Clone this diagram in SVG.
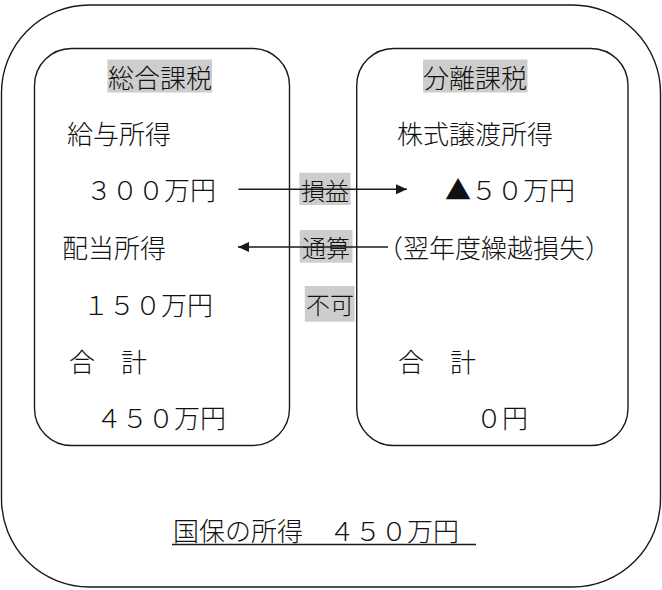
<svg xmlns="http://www.w3.org/2000/svg" width="662" height="590" viewBox="0 0 662 590">
<style>
.box{fill:none;stroke:#1a1a1a;stroke-width:1.4}
.t{font-family:"Noto Sans CJK JP","Noto Sans",sans-serif;font-size:26px;font-weight:300;fill:#111}
.m{text-anchor:middle}
.tag{fill:#cdcdcd}
.lb{font-family:"Noto Sans CJK JP","Noto Sans",sans-serif;font-size:24px;font-weight:300;fill:#111;text-anchor:middle}
.conn{stroke:#1a1a1a;stroke-width:1.4;fill:none}
</style>
<defs>
<marker id="ah" markerWidth="12" markerHeight="10" refX="11" refY="5" orient="auto" markerUnits="userSpaceOnUse">
<path d="M0,0 L11,5 L0,10 Z" fill="#1a1a1a"/>
</marker>
</defs>
<rect width="662" height="590" fill="#fff"/>
<g id="kokuho">
<rect class="box" x="1.5" y="5" width="659" height="582" rx="88" ry="88"/>
<text class="t" x="173" y="541">国保の所得　４５０万円</text>
<line x1="172" y1="544.5" x2="476" y2="544.5" stroke="#1a1a1a" stroke-width="1.6"/>
</g>
<g id="sogo">
<rect class="box" x="34.5" y="48.5" width="255" height="397" rx="37" ry="37"/>
<rect class="tag" x="107.5" y="59.5" width="104.5" height="33"/>
<text class="t m" x="160" y="88">総合課税</text>
<text class="t" x="67" y="144">給与所得</text>
<text class="t m" x="151" y="200">３００万円</text>
<text class="t" x="62" y="258">配当所得</text>
<text class="t m" x="148" y="315">１５０万円</text>
<text class="t" x="69" y="372">合　計</text>
<text class="t m" x="161" y="428">４５０万円</text>
</g>
<g id="bunri">
<rect class="box" x="356.7" y="48.5" width="271.3" height="397" rx="37" ry="37"/>
<rect class="tag" x="423" y="59.5" width="104.5" height="33"/>
<text class="t m" x="475" y="88">分離課税</text>
<text class="t" x="397" y="144">株式譲渡所得</text>
<text class="t m" x="510" y="200">▲５０万円</text>
<text class="t m" x="494" y="258">（翌年度繰越損失）</text>
<text class="t" x="398" y="372">合　計</text>
<text class="t m" x="502" y="428">０円</text>
</g>
<g id="labels">
<rect class="tag" x="299.3" y="172.7" width="51.2" height="32.3"/>
<text class="lb" x="325" y="200">損益</text>
<rect class="tag" x="299.7" y="230" width="52.8" height="32.7"/>
<text class="lb" x="326" y="257">通算</text>
<rect class="tag" x="304.8" y="286" width="49.8" height="35.7"/>
<text class="lb" x="330" y="314">不可</text>
</g>
<g id="connectors">
<line class="conn" x1="238.5" y1="189.3" x2="407" y2="189.3" marker-end="url(#ah)"/>
<line class="conn" x1="388" y1="247" x2="238" y2="247" marker-end="url(#ah)"/>
</g>
</svg>
